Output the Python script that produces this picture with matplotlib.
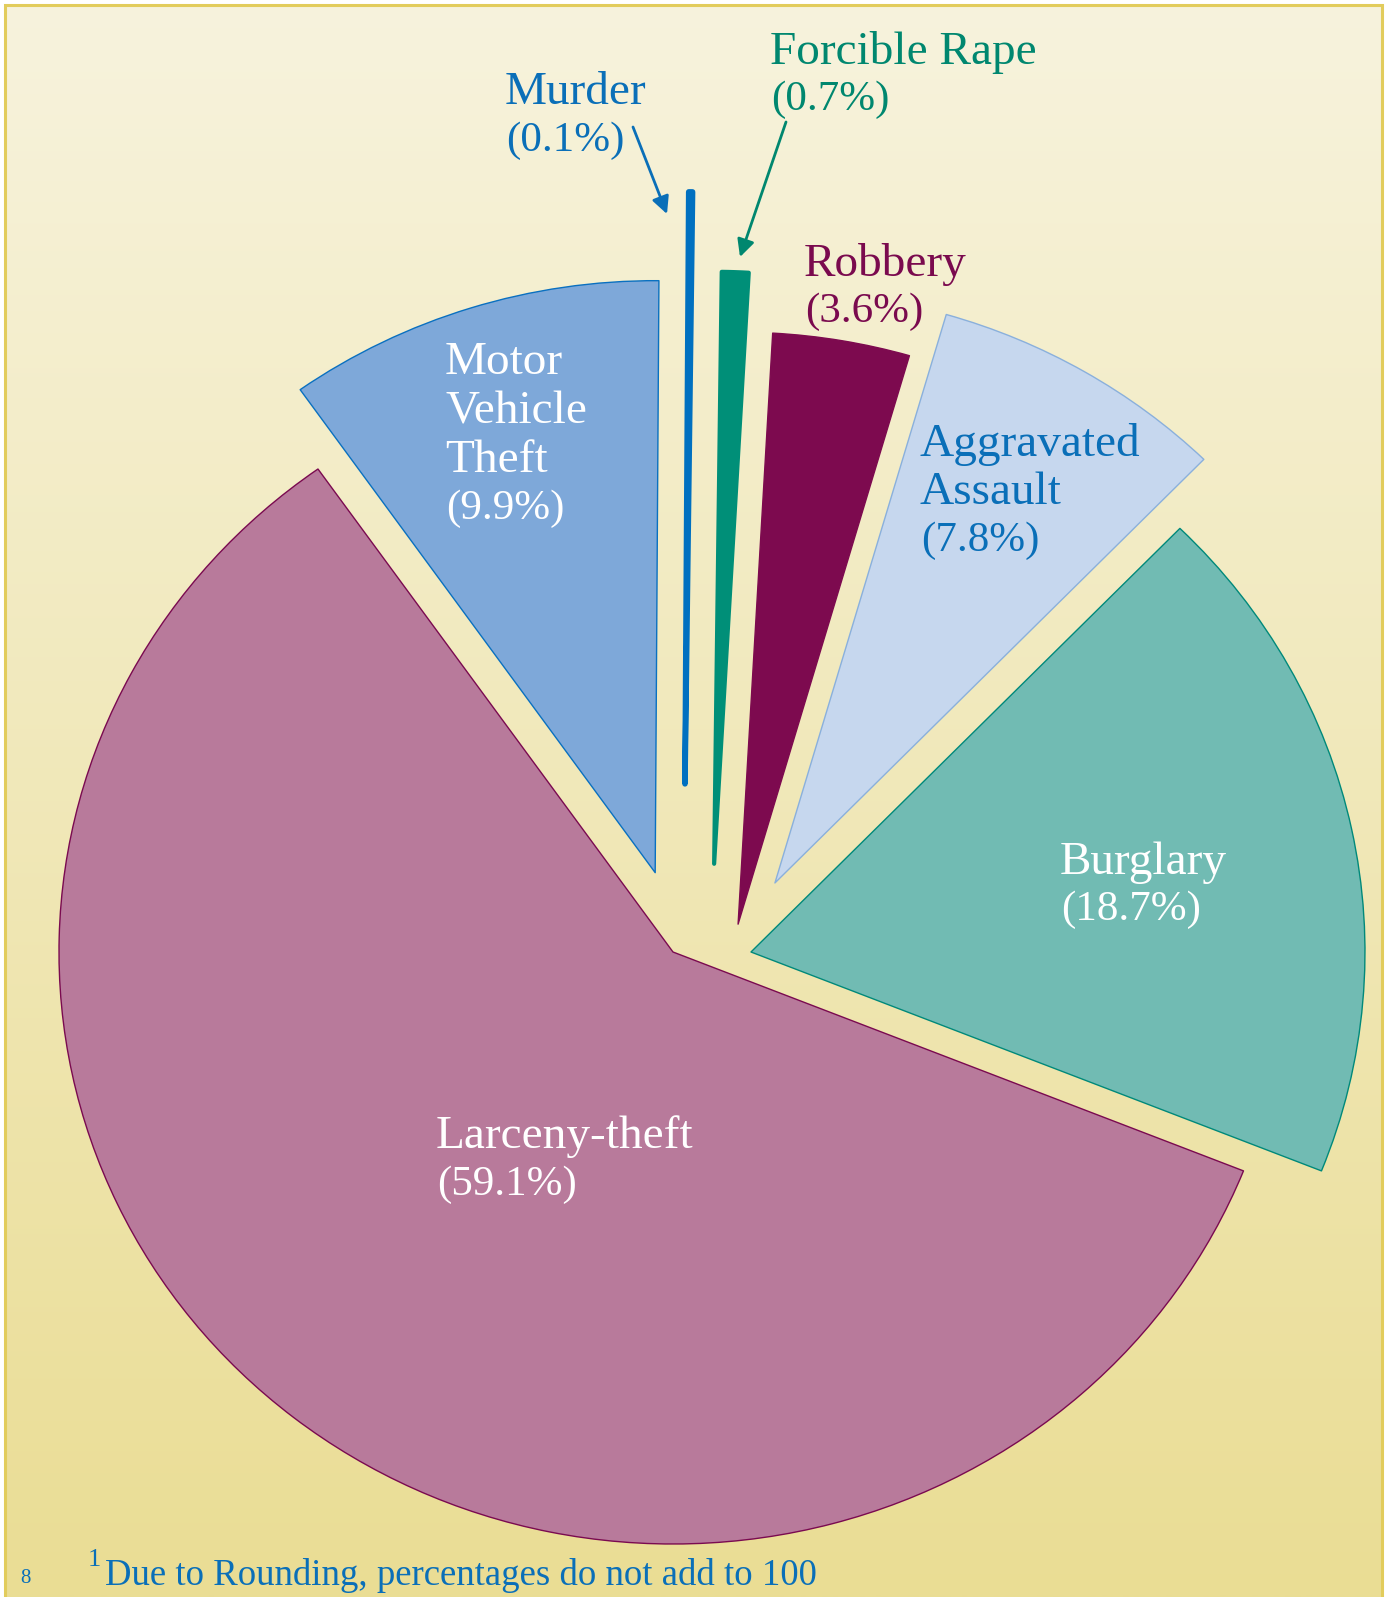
import numpy as np
import matplotlib
matplotlib.use('Agg')
import matplotlib.pyplot as plt

# crime shares, clockwise from the top of the pie
names  = ['Murder', 'Forcible Rape', 'Robbery', 'Aggravated\nAssault', 'Burglary', 'Larceny-theft', 'Motor\nVehicle\nTheft']
values = [0.1, 0.7, 3.6, 7.8, 18.7, 59.1, 9.9]
note = 'Due to Rounding, percentages do not add to 100'
page = '8'

# --- styling -------------------------------------------------------------
face   = ['#0070c0', '#008f78', '#7d0a4f', '#c6d7ee', '#71bbb3', '#b87a9b', '#7ea8d9']
edge   = ['#0070c0', '#008f78', '#7d0a4f', '#8ab0dc', '#00897a', '#7a0a50', '#0a70c0']
edge_w = [4.0, 3.0, 1.0, 1.0, 1.0, 1.0, 1.0]
txt_col = ['#0a6fb8', '#00876f', '#7a0a4e', '#0a6fb8', 'white', 'white', 'white']
# how far each slice is pulled out (pie units)
shift = [(0.0195, 0.284), (0.067, 0.149), (0.106, 0.047), (0.166, 0.1166),
         (0.127, 0.0), (0.0, 0.0), (-0.029, 0.134)]
# label anchors in pixels (left edge, baseline of the percentage line)
lab_xy = [(505, 151), (770, 110), (804, 322), (920, 551), (1060, 920), (436, 1195), (445, 519)]
STEP = 46.5   # line step in pixels

W, H = 1390, 1597
FONT = 'Liberation Serif'

fig = plt.figure(figsize=(W / 100, H / 100), dpi=100)

# background panel with gradient + gold border
bg = fig.add_axes([0, 0, 1, 1], zorder=0)
c_top = np.array([247, 243, 221]) / 255
c_bot = np.array([234, 221, 148]) / 255
t = np.linspace(0, 1, 512)[:, None]
grad = c_top * (1 - t) + c_bot * t
bg.imshow(grad[:, None, :], aspect='auto', extent=(5, 1382, H, 5), interpolation='bilinear')
bg.plot([5, 5, 1382, 1382], [H + 5, 5, 5, H + 5], color='#e2cc5c', lw=2.2, solid_joinstyle='miter')
bg.set_xlim(0, W)
bg.set_ylim(H, 0)
bg.axis('off')

# the pie itself (slightly wider than tall, like the original)
ax = fig.add_axes([0, 0, 1, 1], zorder=1)
ax.patch.set_alpha(0)
start = -21.7 + 360 * sum(values[:5]) / sum(values)
wedges, _ = ax.pie(values, startangle=start, counterclock=False, radius=1.0)
for i, w in enumerate(wedges):
    w.set_facecolor(face[i])
    w.set_edgecolor(edge[i])
    w.set_linewidth(edge_w[i])
    w.set_joinstyle('round')
    w.set_center(shift[i])
ax.set_aspect('auto')
ax.set_xlim(-673 / 614, 717 / 614)
ax.set_ylim(-645 / 592, 952 / 592)
ax.axis('off')

# labels, arrows and footnote in pixel coordinates
top = fig.add_axes([0, 0, 1, 1], zorder=2)
top.patch.set_alpha(0)
top.set_xlim(0, W)
top.set_ylim(H, 0)
top.axis('off')

for i in range(len(values)):
    x, y = lab_xy[i]
    top.text(x, y - STEP, names[i], ha='left', va='baseline', fontsize=34,
             family=FONT, color=txt_col[i], linespacing=1.2)
    top.text(x + 1, y, '({}%)'.format(values[i]), ha='left', va='baseline',
             fontsize=31, family=FONT, color=txt_col[i])

top.annotate('', xy=(667, 214), xytext=(633, 127),
             arrowprops=dict(arrowstyle='-|>', color=txt_col[0], lw=2,
                             mutation_scale=26, shrinkA=0, shrinkB=0))
top.annotate('', xy=(740, 257), xytext=(786, 122),
             arrowprops=dict(arrowstyle='-|>', color=txt_col[1], lw=2,
                             mutation_scale=26, shrinkA=0, shrinkB=0))

top.text(88, 1566, '1', ha='left', va='baseline', fontsize=19, family=FONT, color='#0a6fb8')
top.text(105, 1585, note, ha='left', va='baseline', fontsize=26.5, family=FONT, color='#0a6fb8')
top.text(20, 1583, page, ha='left', va='baseline', fontsize=15, family=FONT, color='#0a6fb8')

fig.savefig('out.png', dpi=100)
